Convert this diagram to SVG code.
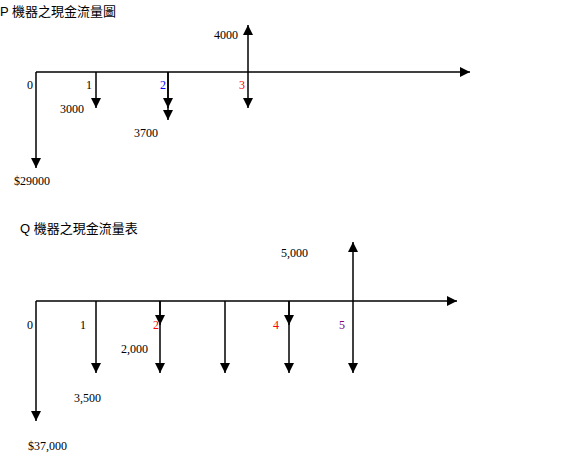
<svg xmlns="http://www.w3.org/2000/svg" width="586" height="458" viewBox="0 0 586 458">
<style>
.t{font-family:"Liberation Sans","Noto Sans CJK TC",sans-serif;font-size:13px;fill:#000}
.n{font-family:"Liberation Serif",serif;font-size:12px;fill:#000}
.ln{stroke:#000;stroke-width:1.5;fill:none}
.a{marker-end:url(#ah)}
</style>
<defs>
<marker id="ah" viewBox="0 0 10 10" refX="10" refY="5" markerWidth="10" markerHeight="10" markerUnits="userSpaceOnUse" orient="auto">
<path d="M0,0 L10,5 L0,10 z" fill="#000"/>
</marker>
</defs>
<rect width="586" height="458" fill="#fff"/>
<g id="titles">
<text class="t" x="0" y="16">P 機器之現金流量圖</text>
<text class="t" x="20" y="233">Q 機器之現金流量表</text>
</g>
<g id="connectors">
<!-- P diagram -->
<line class="ln a" x1="36" y1="72" x2="470" y2="72"/>
<line class="ln a" x1="36" y1="72" x2="36" y2="168"/>
<line class="ln a" x1="96" y1="72" x2="96" y2="108"/>
<line class="ln a" x1="168" y1="72" x2="168" y2="108"/>
<line class="ln a" x1="168" y1="72" x2="168" y2="120"/>
<line class="ln a" x1="248" y1="72" x2="248" y2="108"/>
<line class="ln a" x1="248" y1="72" x2="248" y2="25"/>
<!-- Q diagram -->
<line class="ln a" x1="36" y1="301" x2="457" y2="301"/>
<line class="ln a" x1="36" y1="301" x2="36" y2="421"/>
<line class="ln a" x1="96" y1="301" x2="96" y2="373"/>
<line class="ln a" x1="160" y1="301" x2="160" y2="325"/>
<line class="ln a" x1="160" y1="301" x2="160" y2="373"/>
<line class="ln a" x1="225" y1="301" x2="225" y2="373"/>
<line class="ln a" x1="289" y1="301" x2="289" y2="325"/>
<line class="ln a" x1="289" y1="301" x2="289" y2="373"/>
<line class="ln a" x1="353" y1="301" x2="353" y2="373"/>
<line class="ln a" x1="353" y1="301" x2="353" y2="242"/>
</g>
<g id="p-labels">
<text class="n" x="27" y="89">0</text>
<text class="n" x="86" y="89">1</text>
<text class="n" x="160" y="89" fill="#0000ff" style="fill:#0000ff">2</text>
<text class="n" x="239" y="89" style="fill:#ff0000">3</text>
<text class="n" x="60" y="113">3000</text>
<text class="n" x="134" y="137">3700</text>
<text class="n" x="14" y="185">$29000</text>
<text class="n" x="214" y="39">4000</text>
</g>
<g id="q-labels">
<text class="n" x="27" y="329">0</text>
<text class="n" x="80" y="329">1</text>
<text class="n" x="153" y="329" style="fill:#ff0000">2</text>
<text class="n" x="273" y="329" style="fill:#ff0000">4</text>
<text class="n" x="339" y="329" style="fill:#800080">5</text>
<text class="n" x="121" y="353">2,000</text>
<text class="n" x="74" y="402">3,500</text>
<text class="n" x="28" y="450">$37,000</text>
<text class="n" x="281" y="257">5,000</text>
</g>
</svg>
